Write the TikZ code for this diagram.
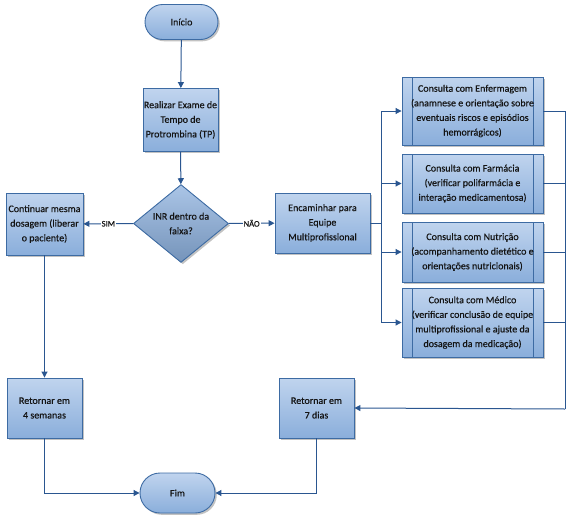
\documentclass[tikz,border=0pt]{standalone}
\usepackage{fontspec}
\setmainfont{Carlito}
\newfontfamily\diafont{Carlito}[FakeBold=0.4]
\usetikzlibrary{shapes.geometric,shapes.misc,shadows,arrows.meta}
\definecolor{bdr}{HTML}{3D6BA3}
\definecolor{ctop}{HTML}{C0D4EE}
\definecolor{cbot}{HTML}{8AAEDB}
\definecolor{lnc}{HTML}{2A5690}
\definecolor{txt}{HTML}{141414}
\tikzset{
 base/.style={draw=bdr, line width=0.9pt, top color=ctop, bottom color=cbot, text=txt,
   font=\diafont\fontsize{10}{14.6}\selectfont, align=center, inner sep=0pt,
   drop shadow={shadow xshift=1.8pt, shadow yshift=-1.8pt, opacity=0.4, fill=black!60}},
 proc/.style={base, rectangle},
 term/.style={base, rounded rectangle},
 dec/.style={base, diamond, top color=ctop!60!cbot, bottom color=cbot!85!black},
 pre/.style={proc, path picture={\draw[bdr, line width=0.8pt]
   ([xshift=10pt]path picture bounding box.north west) -- ([xshift=10pt]path picture bounding box.south west)
   ([xshift=-10pt]path picture bounding box.north east) -- ([xshift=-10pt]path picture bounding box.south east);}},
 conn/.style={draw=lnc, line width=1pt},
 arr/.style={conn, -{Triangle[length=6pt,width=6pt]}},
 lbl/.style={font=\diafont\fontsize{8.5}{10}\selectfont, text=txt, fill=white, inner sep=1pt}
}
\begin{document}
\begin{tikzpicture}[x=1pt,y=-1pt]
\useasboundingbox (0,0) rectangle (571,520);
\node[term, minimum width=73pt, minimum height=35pt] (inicio) at (181.5,22) {Início};
\node[proc, minimum width=75pt, minimum height=63pt] (exame) at (180.5,120) {Realizar Exame de\\Tempo de\\Protrombina (TP)};
\node[dec, minimum width=95pt, minimum height=77pt] (inr) at (181,223.5) {INR dentro da\\faixa?};
\node[proc, minimum width=77pt, minimum height=62pt] (cont) at (44.5,224) {Continuar mesma\\dosagem (liberar\\o paciente)};
\node[proc, minimum width=95pt, minimum height=60pt] (enc) at (322.5,223) {Encaminhar para\\Equipe\\Multiprofissional};
\node[pre, minimum width=141pt, minimum height=68pt] (enf) at (472.5,111) {Consulta com Enfermagem\\(anamnese e orientação sobre\\eventuais riscos e episódios\\hemorrágicos)};
\node[pre, minimum width=141pt, minimum height=59pt] (far) at (472.5,183.5) {Consulta com Farmácia\\(verificar polifarmácia e\\interação medicamentosa)};
\node[pre, minimum width=141pt, minimum height=60pt] (nut) at (472.5,252) {Consulta com Nutrição\\(acompanhamento dietético e\\orientações nutricionais)};
\node[pre, minimum width=141pt, minimum height=69pt] (med) at (472.5,322.5) {Consulta com Médico\\(verificar conclusão de equipe\\multiprofissional e ajuste da\\dosagem da medicação)};
\node[proc, minimum width=75pt, minimum height=60pt] (ret4) at (44.5,408) {Retornar em\\4 semanas};
\node[proc, minimum width=75pt, minimum height=60pt] (ret7) at (316.5,408) {Retornar em\\7 dias};
\node[term, minimum width=75pt, minimum height=40pt] (fim) at (177.5,493) {Fim};
\coordinate (busl) at (381,223);
\coordinate (busr) at (565,409);
% main flow
\draw[arr] (inicio) -- (exame);
\draw[arr] (exame) -- (inr);
\draw[arr] (inr) -- node[lbl] {SIM} (cont);
\draw[arr] (inr) -- node[lbl] {NÃO} (enc);
\draw[arr] (cont.south -| ret4) -- (ret4);
% distribution bus
\draw[conn] (enc.east) -- (busl);
\draw[conn] (busl |- enf.west) -- (busl |- med.west);
\foreach \n in {enf,far,nut,med} \draw[arr] (busl |- \n.west) -- (\n.west);
% collection bus
\foreach \n in {enf,far,nut,med} \draw[conn] (\n.east) -- (busr |- \n.east);
\draw[conn] (busr |- enf.east) -- (busr);
\draw[arr] (busr) -- (ret7.east);
% to end
\draw[arr] (ret4.south) |- (fim.west);
\draw[arr] (ret7.south) |- (fim.east);
\end{tikzpicture}
\end{document}
